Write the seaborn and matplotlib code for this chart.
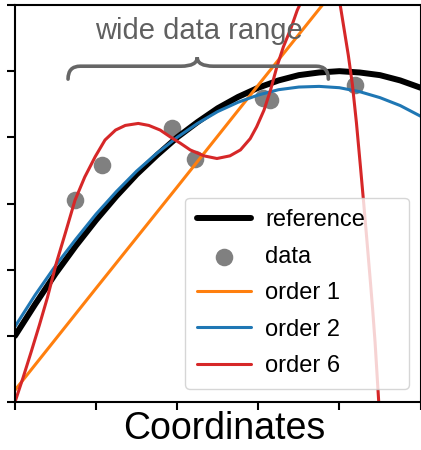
import numpy as np
import pandas as pd
import matplotlib
matplotlib.use('Agg')
import matplotlib.pyplot as plt
from matplotlib.path import Path
from matplotlib.patches import PathPatch
import seaborn as sns

# values
data_x = [0.74, 1.07, 1.93, 2.22, 3.06, 3.15, 4.19]
data_y = [3.05, 3.58, 4.14, 3.67, 4.59, 4.56, 4.79]

ref_x = [0.0, 0.25, 0.5, 0.75, 1.0, 1.25, 1.5, 1.75, 2.0, 2.25, 2.5,
         2.75, 3.0, 3.25, 3.5, 3.75, 4.0, 4.25, 4.5, 4.75, 5.0]
ref_y = [1.00, 1.48, 1.94, 2.36, 2.75, 3.11, 3.44, 3.73, 4.00, 4.23, 4.44,
         4.61, 4.75, 4.86, 4.94, 4.98, 5.00, 4.98, 4.94, 4.86, 4.75]

order1_x = [0.0, 1.0, 2.0, 3.0, 4.0, 5.0]
order1_y = [0.18, 1.72, 3.25, 4.79, 6.32, 7.86]

order2_x = ref_x
order2_y = [1.14, 1.62, 2.06, 2.46, 2.84, 3.18, 3.49, 3.76, 4.00, 4.21, 4.39,
            4.53, 4.64, 4.72, 4.76, 4.77, 4.75, 4.69, 4.60, 4.48, 4.32]

order6_x = [0.0, 0.1, 0.2, 0.3, 0.4, 0.51, 0.62, 0.74, 0.86, 0.99, 1.11,
            1.24, 1.36, 1.52, 1.65, 1.79, 1.91, 2.04, 2.16, 2.33, 2.49,
            2.65, 2.78, 2.90, 2.98, 3.07, 3.15, 3.23, 3.31, 3.40, 3.48,
            3.53, 3.6, 3.7, 3.8, 3.9, 3.96, 4.01, 4.06, 4.11, 4.16, 4.21,
            4.26, 4.30, 4.34, 4.38, 4.41, 4.44, 4.47, 4.49]
order6_y = [0.0, 0.37, 0.76, 1.16, 1.58, 2.10, 2.55, 3.05, 3.40, 3.71, 3.96,
            4.11, 4.18, 4.21, 4.18, 4.11, 4.01, 3.91, 3.81, 3.72, 3.68,
            3.72, 3.81, 3.98, 4.16, 4.41, 4.71, 5.07, 5.37, 5.64, 5.92,
            6.05, 6.30, 6.50, 6.60, 6.55, 6.40, 6.00, 5.62, 5.24, 4.80, 4.22,
            3.55, 3.00, 2.43, 1.85, 1.40, 0.90, 0.30, -0.10]

tick_x = [0, 1, 2, 3, 4, 5]
tick_y = [0, 1, 2, 3, 4, 5, 6]

sns.set_style('ticks')
plt.rcParams['font.family'] = ['Liberation Sans', 'DejaVu Sans']
plt.rcParams['text.color'] = 'black'
plt.rcParams['axes.labelcolor'] = 'black'

fig = plt.figure(figsize=(4.21, 4.5), dpi=100)
ax = fig.add_axes([15 / 421, 48 / 450, 405.5 / 421, 397 / 450])
ax.set_xlim(0, 5)
ax.set_ylim(0, 6)

sns.lineplot(x=ref_x, y=ref_y, color='black', linewidth=4.3, label='reference', ax=ax)
sns.scatterplot(x=data_x, y=data_y, color='gray', s=160, linewidth=0, label='data', ax=ax)
sns.lineplot(x=order1_x, y=order1_y, color='#ff7f0e', linewidth=2.2, label='order 1', ax=ax)
sns.lineplot(x=order2_x, y=order2_y, color='#1f77b4', linewidth=2.2, label='order 2', ax=ax)
sns.lineplot(x=order6_x, y=order6_y, color='#d62728', linewidth=2.2, label='order 6', ax=ax)

ax.set_xlim(0, 5)
ax.set_ylim(0, 6)
ax.set_xticks(tick_x)
ax.set_yticks(tick_y)
ax.tick_params(labelleft=False, labelbottom=False, length=5.5, width=1.5, color='black')
for sp in ax.spines.values():
    sp.set_linewidth(1.5)
    sp.set_color('black')

ax.set_xlabel('Coordinates', fontsize=27, labelpad=1, x=0.515)
ax.set_ylabel('')

# curly brace over the data range
bx0, bxm, bx1 = 0.654, 2.247, 3.864
by_end, by_mid, by_tip = 4.88, 5.075, 5.21
verts = [(bx0, by_end), (bx0, by_mid), (bx0 + 0.15, by_mid),
         (bxm - 0.2, by_mid), (bxm, by_mid), (bxm, by_tip),
         (bxm, by_mid), (bxm + 0.2, by_mid),
         (bx1 - 0.15, by_mid), (bx1, by_mid), (bx1, by_end)]
codes = [Path.MOVETO, Path.CURVE3, Path.CURVE3,
         Path.LINETO, Path.CURVE3, Path.CURVE3,
         Path.CURVE3, Path.CURVE3,
         Path.LINETO, Path.CURVE3, Path.CURVE3]
ax.add_patch(PathPatch(Path(verts, codes), facecolor='none', edgecolor='#666666',
                       linewidth=2.6, capstyle='round', zorder=3))
ax.text(2.265, 5.6, 'wide data range', fontsize=21, color='#606060',
        ha='center', va='center')

ax.legend(loc='lower left', bbox_to_anchor=(0.419, 0.033, 0.553, 0.478),
          mode='expand', borderaxespad=0, fontsize=17, labelspacing=0.61,
          borderpad=0.5, handlelength=2.3, handletextpad=0.6)

fig.savefig('out.png', dpi=100)
